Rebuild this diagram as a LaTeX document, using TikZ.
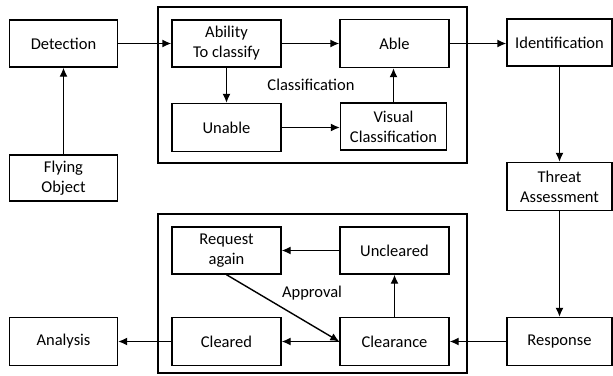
\documentclass[tikz,border=0pt]{standalone}
\usepackage{fontspec}
\setmainfont{Carlito}
\usetikzlibrary{arrows.meta}
\begin{document}
\begin{tikzpicture}[x=1pt,y=-1pt,
  box/.style={draw,line width=1.4pt,inner sep=0pt,align=center,font=\fontsize{16.5}{20}\selectfont},
  grp/.style={draw,line width=1.4pt},
  lbl/.style={inner sep=0pt,font=\fontsize{16.5}{20}\selectfont},
  arr/.style={line width=1.4pt,-{Latex[length=9pt,width=8pt]}}]
\useasboundingbox (0,0) rectangle (613,375);
\fill[white] (0,0) rectangle (613,375);
% groups
\draw[grp] (158,7) rectangle (467,163);
\draw[grp] (158,214) rectangle (467,373);
% nodes
\node[box,minimum width=108pt,minimum height=47pt] (det) at (63.5,43.5) {Detection};
\node[box,minimum width=108pt,minimum height=46pt] (fly) at (63.5,178) {Flying\\Object};
\node[box,minimum width=109pt,minimum height=47pt] (abil) at (226.5,43.5) {Ability\\To classify};
\node[box,minimum width=109pt,minimum height=48pt] (unab) at (226.5,127.5) {Unable};
\node[box,minimum width=109pt,minimum height=48pt] (able) at (394.5,43.5) {Able};
\node[box,minimum width=106pt,minimum height=47pt] (vis) at (393.5,126.5) {Visual\\Classification};
\node[box,minimum width=105pt,minimum height=47pt] (ident) at (559.5,42.5) {Identification};
\node[box,minimum width=105pt,minimum height=48pt] (threat) at (559.5,186.5) {Threat\\Assessment};
\node[box,minimum width=105pt,minimum height=48pt] (resp) at (559.5,341.5) {Response};
\node[box,minimum width=109pt,minimum height=47pt] (req) at (226.5,250.5) {Request\\again};
\node[box,minimum width=109pt,minimum height=47pt] (uncl) at (394.5,250.5) {Uncleared};
\node[box,minimum width=109pt,minimum height=48pt] (clrd) at (226.5,341.5) {Cleared};
\node[box,minimum width=109pt,minimum height=48pt] (clrn) at (394.5,341.5) {Clearance};
\node[box,minimum width=108pt,minimum height=48pt] (anal) at (63.5,341.5) {Analysis};
% labels
\node[lbl] (classlbl) at (311,85) {Classification};
\node[lbl] (applbl) at (312,293) {Approval};
% connectors
\draw[arr] (fly) -- (det);
\draw[arr] (det) -- (abil);
\draw[arr] (abil) -- (able);
\draw[arr] (abil) -- (unab);
\draw[arr] (unab.east) -- (vis.west |- unab.east);
\draw[arr] (vis) -- (vis.center |- able.south);
\draw[arr] (able) -- (ident.west |- able.east);
\draw[arr] (ident) -- (threat);
\draw[arr] (threat) -- (resp);
\draw[arr] (resp) -- (clrn);
\draw[arr] (clrn) -- (clrd);
\draw[arr] (clrd) -- (anal);
\draw[arr] (clrn) -- (uncl);
\draw[arr] (uncl) -- (req);
\draw[arr] (req.south) -- (clrn.west);
\end{tikzpicture}
\end{document}
